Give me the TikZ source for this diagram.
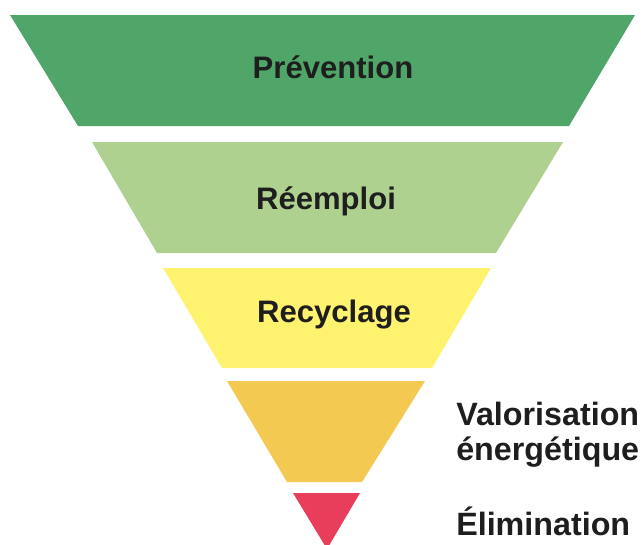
\documentclass[tikz,border=0pt]{standalone}
\usepackage{fontspec}
\setmainfont{Liberation Sans}
\definecolor{cPrev}{HTML}{50A669}
\definecolor{cReem}{HTML}{AED18F}
\definecolor{cRecy}{HTML}{FFF26E}
\definecolor{cValo}{HTML}{F3C951}
\definecolor{cElim}{HTML}{E83E5C}
\definecolor{cText}{HTML}{1E1E1E}
\begin{document}
\begin{tikzpicture}[x=0.75pt,y=-0.75pt,
  lbl/.style={inner sep=0pt,text=cText,font=\fontsize{23.3}{26}\selectfont\bfseries},
  sidelbl/.style={lbl,anchor=base west,font=\fontsize{24.2}{27}\selectfont\bfseries}]
\useasboundingbox (0,0) rectangle (641,544);
\fill[cPrev] (10,15) -- (635,15) -- (569,126) -- (78,126) -- cycle;
\fill[cReem] (92,142) -- (563,142) -- (496,253) -- (157,253) -- cycle;
\fill[cRecy] (163,268) -- (491,268) -- (432,368) -- (222,368) -- cycle;
\fill[cValo] (227,381) -- (425,381) -- (362,482) -- (287,482) -- cycle;
\fill[cElim] (293,493) -- (360,493) -- (327,549) -- cycle;
\node[lbl,anchor=base] (prev) at (333,78) {Prévention};
\node[lbl,anchor=base] (reem) at (326,209) {Réemploi};
\node[lbl,anchor=base] (recy) at (334,322) {Recyclage};
\node[sidelbl] (valo1) at (456,425) {Valorisation};
\node[sidelbl] (valo2) at (456,460) {énergétique};
\node[sidelbl] (elim) at (456,535) {Élimination};
\end{tikzpicture}
\end{document}
